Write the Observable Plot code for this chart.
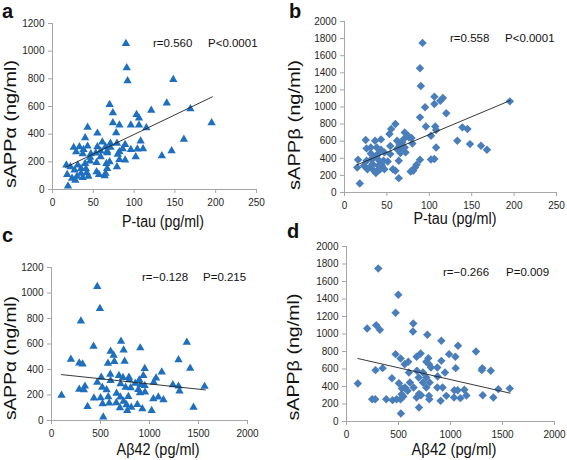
<!DOCTYPE html>
<html><head><meta charset="utf-8">
<script src="https://cdn.jsdelivr.net/npm/d3@7"></script>
<script src="https://cdn.jsdelivr.net/npm/@observablehq/plot@0.6"></script>
<style>
body{margin:0;background:#fff;font-family:"Liberation Sans",Arial,sans-serif;}
#wrap{position:relative;width:567px;height:460px;overflow:hidden;background:#fff;}
.panel{position:absolute;}
#overlay{position:absolute;left:0;top:0;pointer-events:none;}
</style></head><body><div id="wrap"></div>
<script>
// Panel a: P-tau vs sAPPα
const aX = [90,91,92,148,140,169,195,121,70,74,74,82,96,103,106,106,115,43,55,40,78,108,79,89,161,26,33,43,55,61,65,71,71,37,47,59,67,82,86,96,104,111,38,29,46,53,59,67,80,82,89,102,134,146,17,22,31,40,46,54,66,70,79,27,35,41,35,42,44,54,57,65,67,64,18,24,30,19,28,37];
const aY = [1055,880,785,795,625,583,482,573,614,554,482,465,465,542,516,465,446,450,407,374,410,350,333,325,362,304,309,313,309,342,309,333,304,258,258,277,277,272,294,289,292,294,289,272,232,263,236,265,255,217,212,236,243,280,176,164,176,188,205,195,188,200,164,140,152,149,116,120,96,128,108,116,152,99,108,80,96,24,67,87];
const aLineX = [16,196], aLineY = [160,670];
// Panel b: P-tau vs sAPPβ
const bX = [92,89,90,95,96,89,106,113,116,106,120,107,108,102,108,139,145,133,148,161,168,195,102,106,89,85,83,78,81,64,57,60,64,66,72,71,70,71,75,79,80,68,62,60,55,53,54,54,47,47,43,43,38,36,39,25,26,31,31,38,41,46,32,16,15,18,23,27,31,34,37,40,39,42,44,62,67,76,65,51,26,33,35];
const bY = [1750,1453,1246,996,773,879,1121,1074,1105,1035,926,773,730,664,527,762,742,605,566,547,500,1066,387,391,383,324,293,246,254,168,273,254,371,461,469,527,625,703,664,637,574,586,605,801,742,684,543,449,273,469,621,500,527,605,449,613,516,527,457,430,371,371,391,383,293,105,312,273,305,262,227,312,254,273,320,508,508,645,555,363,371,332,410];
const bLineX = [15,195], bLineY = [324,1074];
// Panel c: Aβ42 vs sAPPα
const cX = [467,494,300,429,709,736,603,634,576,641,746,906,951,937,1125,1381,1296,1415,198,283,317,102,283,341,330,368,433,467,508,518,501,521,528,562,579,600,603,589,661,664,688,702,705,698,729,736,756,766,773,784,794,808,790,814,855,876,886,903,896,910,927,954,951,1043,1039,1022,1067,1090,1142,1238,1296,1306,1449,1562];
const cY = [1050,877,780,582,621,553,543,511,449,462,464,569,407,352,379,614,476,410,480,451,443,198,245,269,240,110,175,300,339,261,177,130,26,240,185,363,313,136,138,214,352,183,287,99,337,151,261,123,78,188,318,256,339,104,292,125,243,217,318,282,91,222,274,300,170,78,332,183,162,280,269,230,104,267];
const cLineX = [102,1571], cLineY = [360,240];
// Panel d: Aβ42 vs sAPPβ
const dX = [305,498,472,286,199,321,642,639,777,912,1072,1245,986,1047,472,520,787,713,674,594,768,793,812,347,279,437,504,562,587,610,600,645,677,694,735,716,735,767,767,799,793,873,873,876,912,924,947,960,905,796,674,697,1037,1069,1133,1095,1153,1034,1050,1306,1300,1387,1310,1412,1460,1570,109,247,276,382,443,482,520,530,533,546,523,559,697];
const dY = [1749,1448,1242,1101,1063,1048,1120,1029,991,922,865,800,770,739,770,720,724,777,739,682,682,655,617,610,587,495,438,389,351,446,560,389,579,503,446,301,560,503,389,446,293,389,617,514,693,389,560,293,236,255,274,160,358,358,362,267,297,274,610,610,587,579,301,274,370,377,434,255,255,255,244,255,255,312,377,286,91,655,316];
const dLineX = [109,1573], dLineY = [720,324];

const ptauTicks = [0,50,100,150,200,250];
const abTicks = [0,500,1000,1500,2000];
const alphaTicks = [0,200,400,600,800,1000,1200];
const betaTicks = [0,200,400,600,800,1000,1200,1400,1600,1800,2000];

const wrap = document.getElementById("wrap");
const fmt = d3.format("d");

function panel(cfg) {
  const pts = cfg.xs.map((x, i) => ({x, y: cfg.ys[i]}));
  const ln = cfg.lx.map((x, i) => ({x, y: cfg.ly[i]}));
  const chart = Plot.plot({
    width: cfg.w, height: cfg.h,
    marginLeft: cfg.ml, marginRight: cfg.mr, marginTop: cfg.mt, marginBottom: cfg.mb,
    x: {domain: [cfg.xTicks[0], cfg.xTicks[cfg.xTicks.length - 1]]},
    y: {domain: [cfg.yTicks[0], cfg.yTicks[cfg.yTicks.length - 1]]},
    style: {fontFamily: "Liberation Sans, Arial, sans-serif", fontSize: "10px", background: "transparent", color: "#222"},
    marks: [
      Plot.axisX({ticks: cfg.xTicks, tickSize: 4, tickPadding: 5, stroke: "#a6a6a6", fill: "#262626", label: null, tickFormat: fmt}),
      Plot.axisY({ticks: cfg.yTicks, tickSize: 4, tickPadding: 4, stroke: "#a6a6a6", fill: "#262626", label: null, tickFormat: fmt}),
      Plot.ruleX([cfg.xTicks[0]], {stroke: "#a6a6a6"}),
      Plot.ruleY([cfg.yTicks[0]], {stroke: "#a6a6a6"}),
      Plot.dot(pts, {x: "x", y: "y", symbol: cfg.symbol, r: cfg.r, fill: cfg.fill, stroke: "none"}),
      Plot.line(ln, {x: "x", y: "y", stroke: "#222", strokeWidth: 0.9})
    ]
  });
  const div = document.createElement("div");
  div.className = "panel";
  div.style.left = cfg.left + "px";
  div.style.top = cfg.top + "px";
  div.appendChild(chart);
  wrap.appendChild(div);
}

const triFill = "#1f6fbf", diaFill = "#4a7ebb";
panel({left: 0, top: 0, w: 283, h: 230, ml: 52, mr: 27, mt: 23, mb: 41, xs: aX, ys: aY, lx: aLineX, ly: aLineY, xTicks: ptauTicks, yTicks: alphaTicks, symbol: "triangle", r: 3.1, fill: triFill});
panel({left: 283, top: 0, w: 284, h: 230, ml: 61, mr: 11, mt: 21, mb: 38, xs: bX, ys: bY, lx: bLineX, ly: bLineY, xTicks: ptauTicks, yTicks: betaTicks, symbol: "diamond2", r: 3.8, fill: diaFill});
panel({left: 0, top: 230, w: 283, h: 230, ml: 51, mr: 36, mt: 37, mb: 40, xs: cX, ys: cY, lx: cLineX, ly: cLineY, xTicks: abTicks, yTicks: alphaTicks, symbol: "triangle", r: 3.1, fill: triFill});
panel({left: 283, top: 230, w: 284, h: 230, ml: 63, mr: 13, mt: 16, mb: 39, xs: dX, ys: dY, lx: dLineX, ly: dLineY, xTicks: abTicks, yTicks: betaTicks, symbol: "diamond2", r: 3.8, fill: diaFill});

// Text overlay
const texts = [
  // panel letters
  {t: "a", x: 2, y: 18, size: 20, weight: "bold"},
  {t: "b", x: 289, y: 18, size: 20, weight: "bold"},
  {t: "c", x: 2, y: 242, size: 20, weight: "bold"},
  {t: "d", x: 287, y: 238, size: 20, weight: "bold"},
  // x labels
  {t: "P-tau (pg/ml)", x: 163, y: 227, size: 16, anchor: "middle", len: 82},
  {t: "P-tau (pg/ml)", x: 455, y: 224, size: 16, anchor: "middle", len: 83},
  {t: "Aβ42 (pg/ml)", x: 158, y: 455, size: 16, anchor: "middle", len: 83},
  {t: "Aβ42 (pg/ml)", x: 454, y: 455, size: 16, anchor: "middle", len: 85},
  // y labels (rotated)
  {t: "sAPPα (ng/ml)", x: 16, y: 124, size: 16, anchor: "middle", len: 128, rot: true},
  {t: "sAPPβ (ng/ml)", x: 300, y: 125, size: 16, anchor: "middle", len: 130, rot: true},
  {t: "sAPPα (ng/ml)", x: 16, y: 358, size: 16, anchor: "middle", len: 124, rot: true},
  {t: "sAPPβ (ng/ml)", x: 299, y: 357, size: 16, anchor: "middle", len: 127, rot: true},
  // stats
  {t: "r=0.560", x: 153, y: 47, size: 11.5},
  {t: "P<0.0001", x: 208, y: 47, size: 11.5},
  {t: "r=0.558", x: 450, y: 42, size: 11.5},
  {t: "P<0.0001", x: 505, y: 42, size: 11.5},
  {t: "r=−0.128", x: 142, y: 281, size: 11.5},
  {t: "P=0.215", x: 203, y: 281, size: 11.5},
  {t: "r=−0.266", x: 443, y: 276, size: 11.5},
  {t: "P=0.009", x: 506, y: 276, size: 11.5}
];
const svg = d3.select(wrap).append("svg").attr("id", "overlay").attr("width", 567).attr("height", 460)
  .style("font-family", "Liberation Sans, Arial, sans-serif");
for (const d of texts) {
  const el = svg.append("text").text(d.t)
    .attr("font-size", d.size).attr("fill", "#111")
    .attr("font-weight", d.weight || "normal")
    .attr("text-anchor", d.anchor || "start");
  if (d.len) el.attr("textLength", d.len).attr("lengthAdjust", "spacingAndGlyphs");
  if (d.rot) el.attr("transform", `translate(${d.x},${d.y}) rotate(-90)`);
  else el.attr("x", d.x).attr("y", d.y);
}
</script>
</body></html>
